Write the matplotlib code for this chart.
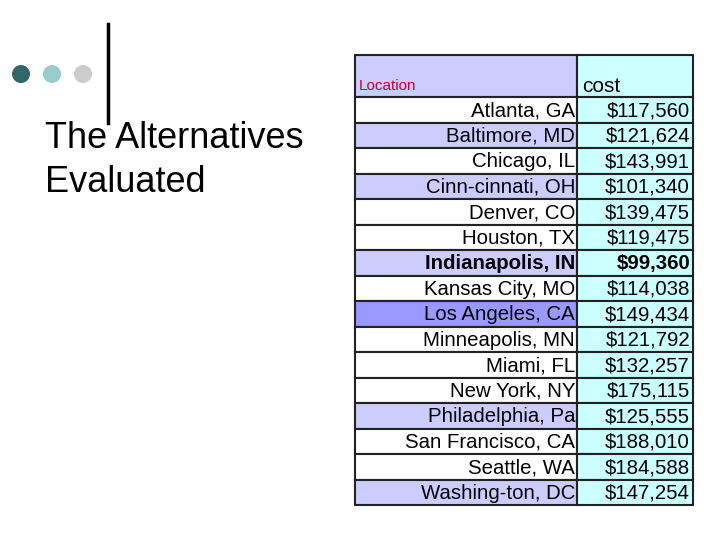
import matplotlib
matplotlib.use("Agg")
import matplotlib.pyplot as plt
from matplotlib.patches import Rectangle

locations = ["Atlanta, GA", "Baltimore, MD", "Chicago, IL", "Cinn-cinnati, OH", "Denver, CO",
             "Houston, TX", "Indianapolis, IN", "Kansas City, MO", "Los Angeles, CA",
             "Minneapolis, MN", "Miami, FL", "New York, NY", "Philadelphia, Pa",
             "San Francisco, CA", "Seattle, WA", "Washing-ton, DC"]
costs = ["$117,560", "$121,624", "$143,991", "$101,340", "$139,475", "$119,475", "$99,360",
         "$114,038", "$149,434", "$121,792", "$132,257", "$175,115", "$125,555", "$188,010",
         "$184,588", "$147,254"]
row_fill = ["#ffffff", "#ccccff", "#ffffff", "#ccccff", "#ffffff", "#ffffff", "#ccccff",
            "#ffffff", "#9999ff", "#ffffff", "#ffffff", "#ffffff", "#ccccff", "#ffffff",
            "#ffffff", "#ccccff"]
bold_row = "Indianapolis, IN"

fig = plt.figure(figsize=(7.2, 5.4), dpi=100)
ax = fig.add_axes([0, 0, 1, 1])
ax.set_xlim(0, 720)
ax.set_ylim(540, 0)
ax.axis("off")

# decorations
for x, c in [(21, "#336666"), (52, "#99cccc"), (83, "#cccccc")]:
    ax.add_patch(plt.Circle((x, 74), 9, color=c, lw=0))
ax.plot([108, 108], [24, 123], color="black", lw=2.5, zorder=5)
ax.text(45, 139, "The Alternatives", fontsize=26, va="center", ha="left", family="Liberation Sans")
ax.text(45, 183, "Evaluated", fontsize=26, va="center", ha="left", family="Liberation Sans")

x0, xm, x1 = 355, 577, 693
top, hdr = 55, 97
rh = (505 - hdr) / len(locations)
lw = 1.5
ax.add_patch(Rectangle((x0, top), xm - x0, hdr - top, fc="#ccccff", ec="#222222", lw=lw))
ax.add_patch(Rectangle((xm, top), x1 - xm, hdr - top, fc="#ccffff", ec="#222222", lw=lw))
ax.text(359, 86, "Location", color="#cc0033", fontsize=11, va="center", family="Liberation Sans")
ax.text(582, 87, "cost", fontsize=15, va="center", family="Liberation Sans")
for i, (loc, c, f) in enumerate(zip(locations, costs, row_fill)):
    y = hdr + i * rh
    ax.add_patch(Rectangle((x0, y), xm - x0, rh, fc=f, ec="#222222", lw=lw))
    ax.add_patch(Rectangle((xm, y), x1 - xm, rh, fc="#ccffff", ec="#222222", lw=lw))
    w = "bold" if loc == bold_row else "normal"
    ax.text(xm - 2, y + rh / 2 + 1, loc, ha="right", va="center", fontsize=14.7,
            weight=w, family="Liberation Sans")
    ax.text(x1 - 3, y + rh / 2 + 1, c, ha="right", va="center", fontsize=14.7,
            weight=w, family="Liberation Sans")

fig.savefig("out.png", dpi=100)
